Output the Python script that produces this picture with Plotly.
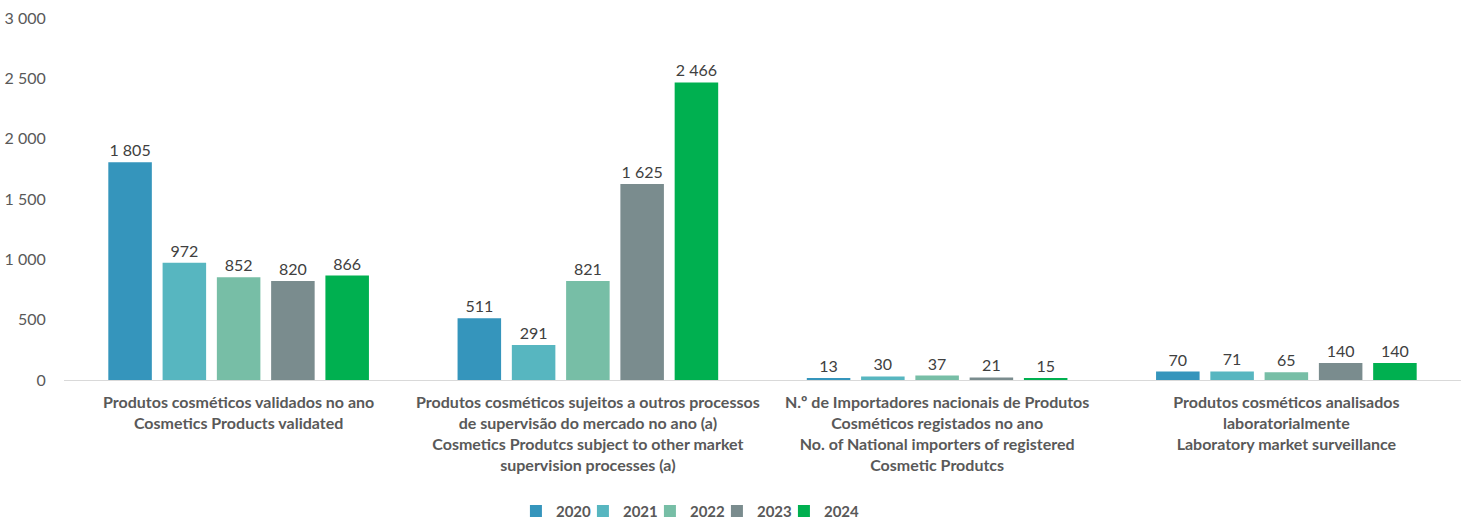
import plotly.graph_objects as go

categories = [
    "<b>Produtos cosméticos validados no ano<br>Cosmetics Products validated</b>",
    "<b>Produtos cosméticos sujeitos a outros processos<br>de supervisão do mercado no ano (a)<br>Cosmetics Produtcs subject to other market<br>supervision processes (a)</b>",
    "<b>N.º de Importadores nacionais de Produtos<br>Cosméticos registados no ano<br>No. of National importers of registered<br>Cosmetic Produtcs</b>",
    "<b>Produtos cosméticos analisados<br>laboratorialmente<br>Laboratory market surveillance</b>",
]
years = ["2020", "2021", "2022", "2023", "2024"]
values = {
    "2020": [1805, 511, 13, 70],
    "2021": [972, 291, 30, 71],
    "2022": [852, 821, 37, 65],
    "2023": [820, 1625, 21, 140],
    "2024": [866, 2466, 15, 140],
}
colors = ["#3595BC", "#57B6C0", "#77BEA6", "#7A8C8E", "#00B050"]

fig = go.Figure()
for y, c in zip(years, colors):
    fig.add_trace(go.Bar(
        x=list(range(len(categories))), y=values[y], name=f"<b>{y}</b>",
        marker=dict(color=c, line=dict(width=0)),
        texttemplate="%{y:,}", textposition="outside",
        textfont=dict(size=16, color="#404040", family="Lato"),
        cliponaxis=False,
    ))
# empty legend spacer so the last legend label is not clipped
fig.add_trace(go.Scatter(x=[None], y=[None], mode="markers", name=" ",
                         marker=dict(color="rgba(0,0,0,0)", size=1,
                                     line=dict(width=0, color="rgba(0,0,0,0)")),
                         hoverinfo="skip"))

fig.update_layout(
    width=1461, height=523,
    paper_bgcolor="white", plot_bgcolor="white",
    separators=", ",
    margin=dict(l=64, r=0, t=18, b=143),
    barmode="group", bargap=0.223, bargroupgap=0.198,
    font=dict(family="Lato", color="#595959"),
    xaxis=dict(
        tickmode="array", tickvals=list(range(len(categories))), ticktext=categories,
        tickfont=dict(size=16, color="#595959", family="Lato"),
        showline=True, linecolor="#D9D9D9", linewidth=1,
        showgrid=False, ticks="outside", ticklen=8, tickcolor="rgba(0,0,0,0)",
        range=[-0.5, 3.5], zeroline=False, automargin=False,
    ),
    yaxis=dict(
        range=[0, 3000], dtick=500, tickformat=",d",
        showgrid=False, zeroline=False, showline=False,
        tickfont=dict(size=16, color="#595959", family="Lato"),
        ticks="outside", ticklen=14, tickcolor="rgba(0,0,0,0)",
        automargin=False, ticklabeloverflow="allow",
    ),
    legend=dict(
        orientation="h", x=0.3235, xanchor="left",
        yref="container", y=0.054, yanchor="top",
        font=dict(size=15, color="#595959", family="Lato"),
        itemwidth=30, traceorder="normal",
        entrywidth=22, entrywidthmode="pixels",
    ),
)

fig.write_html("out.html", post_script="document.body.style.margin='0';",
               config={"displayModeBar": False})
